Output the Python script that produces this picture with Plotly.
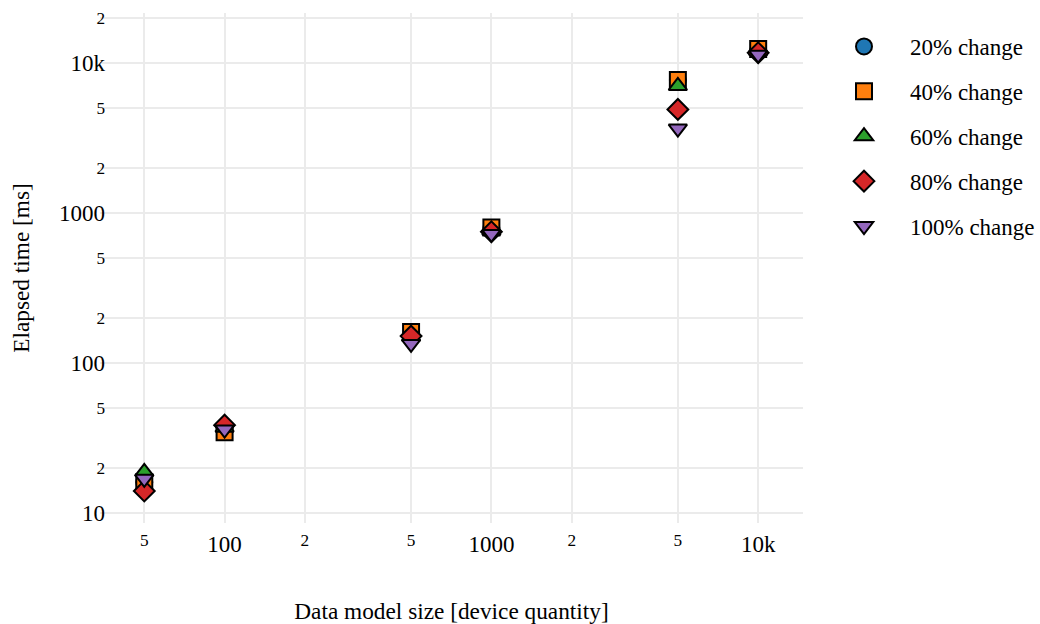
import plotly.graph_objects as go

sizes = [50, 100, 500, 1000, 5000, 10000]
series_names = ["20% change", "40% change", "60% change", "80% change", "100% change"]
t20 = [16, 37, 150, 790, 7700, 12000]
t40 = [16, 34.5, 161, 800, 7700, 12400]
t60 = [18.8, 37, 150, 760, 7030, 12000]
t80 = [14, 38.5, 151, 750, 4900, 11700]
t100 = [16.9, 36, 134, 725, 3650, 11350]
series_values = [t20, t40, t60, t80, t100]
colors = ["#1f77b4", "#ff7f0e", "#2ca02c", "#d62728", "#9467bd"]
symbols = ["circle", "square", "triangle-up", "diamond", "triangle-down"]

FONT = "Liberation Serif, Times New Roman, serif"

fig = go.Figure()
for i, (name, vals) in enumerate(zip(series_names, series_values)):
    fig.add_trace(go.Scatter(
        x=sizes, y=vals, mode="markers", name=name,
        legendgroup=name,
        marker=dict(symbol=symbols[i], size=16, color=colors[i],
                    line=dict(color="black", width=2)),
    ))

fig.update_layout(
    width=1040, height=624,
    margin=dict(l=100, r=237, t=13, b=101),
    paper_bgcolor="white", plot_bgcolor="white",
    font=dict(family=FONT, size=23, color="black"),
    legend=dict(x=0.78654, xref="container", xanchor="left",
                y=0.95994, yref="container", yanchor="top",
                font=dict(size=23), itemwidth=82, tracegroupgap=12),
    showlegend=True,
)
fig.update_xaxes(type="log", range=[1.533, 4.168], dtick="D2", automargin=False,
                 showgrid=True, gridcolor="#ebebeb", gridwidth=2,
                 zeroline=False, showline=False, ticks="",
                 tickfont=dict(size=23), ticklabelstandoff=5,
                 title=dict(text="Data model size [device quantity]", font=dict(size=23.3), standoff=46))
fig.update_yaxes(type="log", range=[0.933, 4.333], dtick="D2", automargin=False,
                 showgrid=True, gridcolor="#ebebeb", gridwidth=2,
                 zeroline=False, showline=False, ticks="",
                 tickfont=dict(size=23), ticklabelstandoff=-6,
                 title=dict(text="Elapsed time [ms]", font=dict(size=23.3), standoff=22))

fig.write_html(
    "out.html",
    config={"displayModeBar": False},
    post_script="document.body.style.margin='0';document.body.style.overflow='hidden';",
)
